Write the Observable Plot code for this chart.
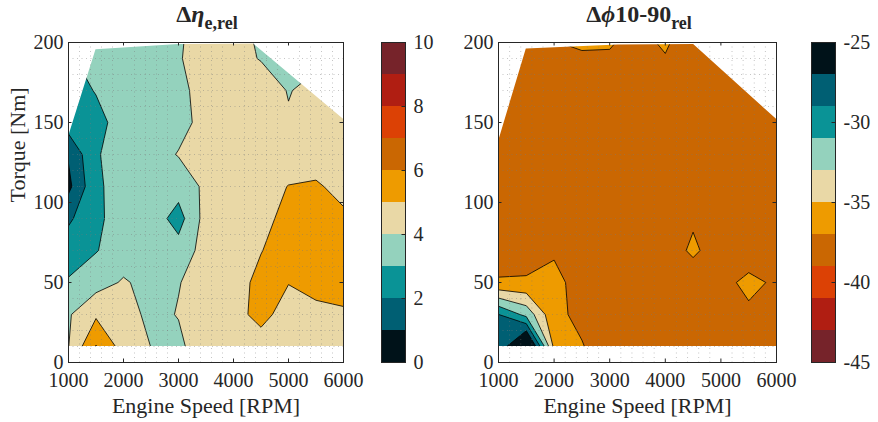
<!DOCTYPE html>
<html>
<head>
<meta charset="utf-8">
<script src="https://cdn.jsdelivr.net/npm/d3@7"></script>
<script src="https://cdn.jsdelivr.net/npm/@observablehq/plot@0.6"></script>
<style>
  body { margin: 0; background: #fff; }
  #fig { position: relative; width: 878px; height: 422px; overflow: hidden;
         font-family: "Liberation Serif", "Times New Roman", serif; color: #262626; }
  #fig svg { position: absolute; left: 0; top: 0; }
  .ttl { position: absolute; top: 1px; transform: translateX(-50%); white-space: nowrap;
         font-weight: bold; font-size: 24px; line-height: 26px; }
  .ttl sub { font-size: 18px; vertical-align: baseline; position: relative; top: 7px; }
</style>
</head>
<body>
<div id="fig">
  <div class="ttl" style="left:207px">Δ<i>η</i><sub>e,rel</sub></div>
  <div class="ttl" style="left:639px">Δ<i>ϕ</i>10-90<sub>rel</sub></div>
</div>
<script>
// Operating grid: engine speed columns (RPM) and torque rows (Nm)
const speeds  = [1000, 1500, 2000, 2500, 3000, 3500, 4000, 4500, 5000, 5500, 6000];
const torques = [10, 30, 50, 70, 90, 110, 130, 150, 170, 190, 210];

// Relative change in effective efficiency, one row per torque (bottom to top)
const etaRel = [
  [3.98, 6.05, 4.57, 3.99, 3.80, 4.60, 4.70, 4.70, 4.60, 4.70, 4.80],
  [3.90, 4.85, 4.40, 3.77, 4.04, 4.50, 4.78, 5.20, 4.72, 4.80, 4.90],
  [3.10, 3.60, 4.10, 3.70, 3.97, 4.30, 4.40, 5.40, 5.02, 5.25, 5.30],
  [2.50, 2.95, 3.50, 3.60, 3.40, 4.40, 4.60, 4.95, 5.70, 5.60, 5.50],
  [1.85, 2.70, 3.67, 3.55, 2.60, 4.40, 4.70, 4.75, 5.25, 5.50, 5.15],
  [0.75, 2.80, 3.50, 3.40, 3.40, 4.20, 4.60, 4.70, 5.02, 5.10, 4.75],
  [1.10, 2.90, 3.50, 3.60, 4.05, 4.30, 4.50, 4.55, 4.60, 4.60, 4.50],
  [2.50, 2.70, 3.40, 3.55, 3.70, 4.30, 4.50, 4.40, 4.10, 4.40, 4.50],
  [2.60, 3.05, 3.40, 3.50, 3.80, 4.30, 4.50, 4.50, 3.95, 4.30, 4.40],
  [2.90, 3.30, 3.40, 3.60, 3.95, 4.30, 4.30, 3.95, 3.70, 3.80, 3.90],
  [3.10, 3.40, 3.50, 3.70, 3.90, 4.30, 4.30, 3.80, 3.60, 3.70, 3.80]
];

// Relative change in 10-90 % burn duration, same grid
const phiRel = [
  [-28.9, -22.5, -35.5, -36.9, -38.0, -38.2, -38.3, -38.2, -38.1, -38.2, -38.3],
  [-28.98, -31.6, -36.6, -37.4, -38.1, -38.3, -38.4, -38.2, -38.0, -37.6, -38.1],
  [-36.8, -36.7, -36.3, -38.0, -38.2, -38.4, -38.5, -38.4, -38.0, -36.2, -37.5],
  [-38.0, -38.1, -37.3, -38.1, -38.3, -38.5, -38.2, -36.6, -38.2, -38.8, -38.3],
  [-38.2, -38.3, -38.2, -38.4, -38.5, -38.6, -38.4, -37.3, -38.3, -38.5, -38.4],
  [-38.3, -38.4, -38.5, -38.6, -38.7, -38.6, -38.5, -38.4, -38.4, -38.3, -38.2],
  [-38.2, -38.4, -38.6, -38.7, -38.6, -38.5, -38.4, -38.3, -38.4, -38.3, -38.2],
  [-38.1, -38.3, -38.5, -38.5, -38.4, -38.4, -38.3, -38.2, -38.3, -38.2, -38.1],
  [-38.0, -38.2, -38.3, -38.2, -38.2, -38.3, -38.1, -38.0, -38.1, -38.0, -38.0],
  [-37.9, -38.0, -37.5, -37.2, -37.2, -37.6, -37.15, -37.8, -37.9, -37.9, -37.9],
  [-37.8, -37.8, -36.6, -36.4, -36.5, -37.2, -36.2, -38.0, -37.8, -37.8, -37.8]
];

// Upper edge of the measured operating range
const etaHullSpeed  = [1000, 1500, 3000, 4370, 6000];
const etaHullTorque = [141, 195.5, 198.7, 199, 152];
const phiHullSpeed  = [1000, 1500, 3150, 4510, 6000];
const phiHullTorque = [138, 196, 198.5, 198.8, 152];

// Contour levels (band edges) and tick labels
const etaLevels = [0, 1, 2, 3, 4, 5, 6, 7, 8, 9, 10];
const phiLevels = [-45, -43, -41, -39, -37, -35, -33, -31, -29, -27, -25];
const etaBarTicks = [0, 2, 4, 6, 8, 10];
const phiBarTicks = [-45, -40, -35, -30, -25];
const speedTicks  = [1000, 2000, 3000, 4000, 5000, 6000];
const torqueTicks = [0, 50, 100, 150, 200];

// Band colours, lowest band first for the efficiency map
const bandColors = ["#001219", "#005f73", "#0a9396", "#94d2bd", "#e9d8a6",
                    "#ee9b00", "#ca6702", "#dc4105", "#b01e12", "#76232a"];

const W = 878, H = 422;
const frameTop = 42, frameBottom = 362;
const ink = "#262626";
const tickLen = 3.5;
const baseStyle = {
  background: "transparent",
  fontFamily: '"Liberation Serif", "Times New Roman", serif',
  fontSize: "20px",
  color: ink,
  overflow: "visible"
};
const minorSpeed  = d3.range(1200, 6000, 200).filter(v => v % 1000 !== 0);
const minorTorque = d3.range(10, 200, 10).filter(v => v % 50 !== 0);

function contourPanel({grid, levels, palette, hullSpeed, hullTorque, left, width, yLabel}) {
  const dS = speeds[1] - speeds[0], dT = torques[1] - torques[0];
  const fh = frameBottom - frameTop;
  const hull = hullSpeed.map((speed, i) => ({speed, torque: hullTorque[i]}));
  const floor = [speeds[0], speeds[speeds.length - 1]].map(speed => ({speed}));
  const grey = {stroke: "#7a7a7a", strokeOpacity: 0.55, strokeWidth: 0.8, strokeDasharray: "1 3.5"};
  const marks = [
    Plot.contour(grid.flat(), {
      width: speeds.length, height: torques.length,
      x1: speeds[0] - dS / 2, x2: speeds[speeds.length - 1] + dS / 2,
      y1: torques[0] - dT / 2, y2: torques[torques.length - 1] + dT / 2,
      fill: Plot.identity, thresholds: levels.slice(0, -1),
      stroke: "black", strokeWidth: 0.8, clip: true
    }),
    Plot.areaY(hull, {x: "speed", y1: "torque", y2: torqueTicks[torqueTicks.length - 1], fill: "white"}),
    Plot.areaY(floor, {x: "speed", y1: torqueTicks[0], y2: torques[0], fill: "white"}),
    Plot.ruleX(minorSpeed, grey),
    Plot.ruleY(minorTorque, grey),
    Plot.frame({stroke: ink, strokeWidth: 1}),
    Plot.tickX(speedTicks, {insetTop: fh - tickLen, stroke: ink}),
    Plot.tickX(speedTicks, {insetBottom: fh - tickLen, stroke: ink}),
    Plot.tickY(torqueTicks, {insetRight: width - tickLen, stroke: ink}),
    Plot.tickY(torqueTicks, {insetLeft: width - tickLen, stroke: ink}),
    Plot.axisX(speedTicks, {tickSize: 0, tickPadding: 10, tickFormat: d => String(d), label: null, fontSize: 20}),
    Plot.axisY(torqueTicks, {tickSize: 0, tickPadding: 5, tickFormat: d => String(d), label: null, fontSize: 20}),
    Plot.text(["Engine Speed [RPM]"], {text: d => d, frameAnchor: "bottom", dy: 50, fontSize: 22, fill: ink})
  ];
  if (yLabel) marks.push(Plot.text([yLabel], {text: d => d, frameAnchor: "left", rotate: -90, dx: -51, fontSize: 22, fill: ink}));
  return Plot.plot({
    width: W, height: H,
    marginLeft: left, marginRight: W - left - width,
    marginTop: frameTop, marginBottom: H - frameBottom,
    style: baseStyle,
    x: {domain: [speedTicks[0], speedTicks[speedTicks.length - 1]], label: null},
    y: {domain: [torqueTicks[0], torqueTicks[torqueTicks.length - 1]], label: null},
    color: {type: "threshold", domain: levels.slice(1, -1), range: palette},
    marks
  });
}

function colorbar({levels, palette, ticks, left}) {
  const fw = 24;
  return Plot.plot({
    width: W, height: H,
    marginLeft: left, marginRight: W - left - fw,
    marginTop: frameTop, marginBottom: H - frameBottom,
    style: baseStyle,
    x: {domain: [0, 1], axis: null},
    y: {domain: [levels[0], levels[levels.length - 1]], label: null},
    color: {type: "threshold", domain: levels.slice(1, -1), range: palette},
    marks: [
      Plot.rect(levels.slice(0, -1), {x1: 0, x2: 1, y1: d => d, y2: (d, i) => levels[i + 1], fill: d => d}),
      Plot.frame({stroke: ink, strokeWidth: 1}),
      Plot.tickY(ticks, {insetLeft: fw - tickLen, stroke: ink}),
      Plot.axisY(ticks, {anchor: "right", tickSize: 0, tickPadding: 8, tickFormat: d => String(d), label: null, fontSize: 20})
    ]
  });
}

const fig = document.getElementById("fig");
fig.append(
  contourPanel({grid: etaRel, levels: etaLevels, palette: bandColors,
                hullSpeed: etaHullSpeed, hullTorque: etaHullTorque,
                left: 68, width: 275, yLabel: "Torque [Nm]"}),
  colorbar({levels: etaLevels, palette: bandColors, ticks: etaBarTicks, left: 381}),
  contourPanel({grid: phiRel, levels: phiLevels, palette: bandColors.slice().reverse(),
                hullSpeed: phiHullSpeed, hullTorque: phiHullTorque,
                left: 498, width: 278}),
  colorbar({levels: phiLevels, palette: bandColors.slice().reverse(), ticks: phiBarTicks, left: 811})
);
</script>
</body>
</html>
